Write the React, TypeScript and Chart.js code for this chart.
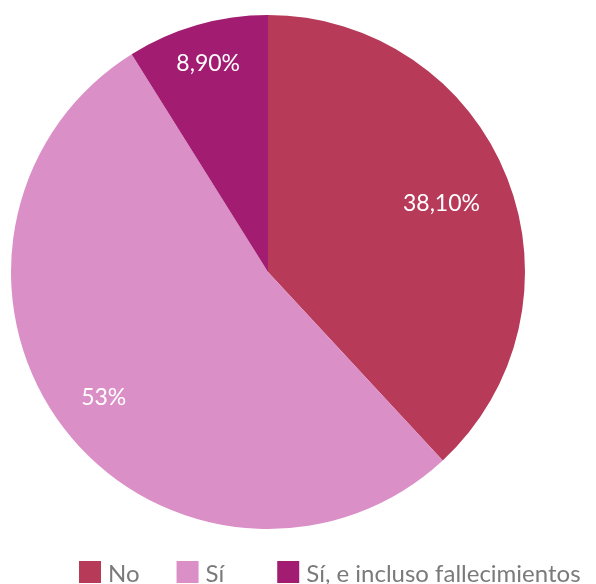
import React, { useEffect, useRef } from "react";
import { Chart, registerables } from "chart.js";

Chart.register(...registerables);

const categories = ["No", "Sí", "Sí, e incluso fallecimientos"];
const values = [38.1, 53, 8.9];
const colors = ["#b73a59", "#db8fc7", "#a21c71"];
const labelRadiusFrac = [0.725, 0.805, 0.843];

const FONT = "Lato, 'Open Sans', sans-serif";

function fmt(v: number): string {
  if (Number.isInteger(v)) return v + "%";
  return v.toFixed(2).replace(".", ",") + "%";
}

const sliceLabels = {
  id: "sliceLabels",
  afterDatasetsDraw(chart: any) {
    const ctx = chart.ctx;
    const meta = chart.getDatasetMeta(0);
    ctx.save();
    ctx.font = `23px ${FONT}`;
    ctx.fillStyle = "#ffffff";
    ctx.textAlign = "center";
    ctx.textBaseline = "middle";
    meta.data.forEach((arc: any, i: number) => {
      const p = arc.getProps(["startAngle", "endAngle", "outerRadius", "x", "y"], true);
      const mid = (p.startAngle + p.endAngle) / 2;
      const r = p.outerRadius * labelRadiusFrac[i];
      ctx.fillText(fmt(values[i]), p.x + Math.cos(mid) * r, p.y + Math.sin(mid) * r);
    });
    ctx.restore();
  },
};

const legendGaps = [37, 53];

const customLegend = {
  id: "customLegend",
  afterDraw(chart: any) {
    const ctx = chart.ctx;
    ctx.save();
    ctx.font = `24px ${FONT}`;
    const box = 22;
    const gapText = 7;
    const widths = categories.map((c) => ctx.measureText(c).width);
    let x = 79;
    const yTop = 561;
    categories.forEach((c, i) => {
      ctx.fillStyle = colors[i];
      ctx.fillRect(x, yTop, box, box);
      ctx.fillStyle = "#7a7a7a";
      ctx.textAlign = "left";
      ctx.textBaseline = "middle";
      ctx.fillText(c, x + box + gapText, yTop + box / 2 + 2);
      x += box + gapText + widths[i] + (legendGaps[i] || 0);
    });
    ctx.restore();
  },
};

export default function App() {
  const ref = useRef<HTMLCanvasElement>(null);
  useEffect(() => {
    document.body.style.margin = "0";
    const chart = new Chart(ref.current!, {
      type: "pie",
      data: {
        labels: categories,
        datasets: [
          {
            data: values,
            backgroundColor: colors,
            borderWidth: 0,
          },
        ],
      },
      options: {
        animation: false,
        responsive: false,
        maintainAspectRatio: false,
        layout: { padding: { left: 11, right: 71, top: 15, bottom: 55 } },
        plugins: {
          legend: { display: false },
          tooltip: { enabled: false },
        },
      },
      plugins: [sliceLabels, customLegend],
    });
    return () => chart.destroy();
  }, []);
  return (
    <div style={{ width: 596, height: 584 }}>
      <canvas ref={ref} width={596} height={584} style={{ display: "block" }} />
    </div>
  );
}
